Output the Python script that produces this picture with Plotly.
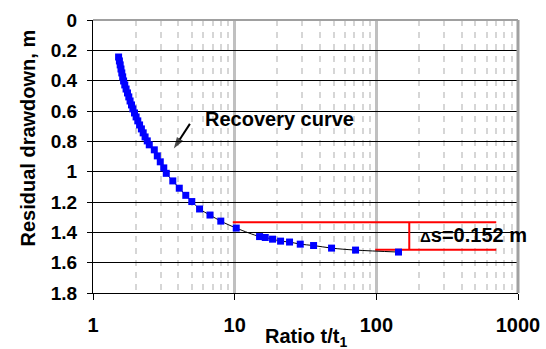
import plotly.graph_objects as go

# ---- data ----
ratio = [1.516, 1.536, 1.556, 1.576, 1.597, 1.620, 1.644, 1.676, 1.712, 1.752,
         1.789, 1.827, 1.869, 1.912, 1.963, 2.015, 2.071, 2.132, 2.196, 2.261,
         2.332, 2.416, 2.496, 2.708, 2.844, 2.985, 3.159, 3.291, 3.658, 4.064,
         4.518, 4.981, 5.653, 6.695, 7.979, 10.26, 14.99, 16.44, 18.51, 21.09,
         24.40, 29.04, 36.06, 48.30, 71.33, 143.4]
drawdown = [0.244, 0.270, 0.296, 0.323, 0.349, 0.375, 0.402, 0.428, 0.455, 0.481,
            0.507, 0.534, 0.560, 0.586, 0.613, 0.639, 0.665, 0.692, 0.718, 0.744,
            0.771, 0.797, 0.823, 0.856, 0.896, 0.935, 0.975, 1.011, 1.061, 1.109,
            1.156, 1.197, 1.246, 1.286, 1.326, 1.372, 1.428, 1.434, 1.445, 1.458,
            1.464, 1.478, 1.487, 1.504, 1.517, 1.530]

# delta-s construction lines
upper_x = [9.70, 702]
upper_y = [1.333, 1.333]
lower_x = [98.2, 702]
lower_y = [1.515, 1.515]
vert_x = [170.8, 170.8]
vert_y = [1.333, 1.515]

# arrow pointing at the curve (tail -> head)
arrow_x = [4.83, 3.72]
arrow_y = [0.685, 0.848]

y_ticks = [0, 0.2, 0.4, 0.6, 0.8, 1.0, 1.2, 1.4, 1.6, 1.8]
y_ticktext = ["0", "0.2", "0.4", "0.6", "0.8", "1", "1.2", "1.4", "1.6", "1.8"]
x_ticks = [1, 10, 100, 1000]
x_ticktext = ["1", "10", "100", "1000"]
x_minor = [2, 3, 4, 5, 6, 7, 8, 9, 20, 30, 40, 50, 60, 70, 80, 90,
           200, 300, 400, 500, 600, 700, 800, 900]

FONT = "Liberation Sans, Arial, sans-serif"
RED = "#ff0000"
W, H = 546, 349
ML, MR, MT, MB = 93, 28, 20, 56
PW, PH = W - ML - MR, H - MT - MB

fig = go.Figure()

for xs, ys in [(upper_x, upper_y), (lower_x, lower_y), (vert_x, vert_y)]:
    fig.add_trace(go.Scatter(x=xs, y=ys, mode="lines",
                             line=dict(color=RED, width=2),
                             hoverinfo="skip", showlegend=False))

fig.add_trace(go.Scatter(
    x=ratio, y=drawdown, mode="lines+markers",
    line=dict(color="black", width=1, shape="spline"),
    marker=dict(symbol="square", size=7, color="#0000ff", line=dict(width=0)),
    showlegend=False))

fig.add_trace(go.Scatter(
    x=arrow_x, y=arrow_y, mode="lines+markers",
    line=dict(color="black", width=2),
    marker=dict(symbol=["circle", "arrow"], size=[0, 12], color="black",
                angleref="previous", line=dict(width=0)),
    hoverinfo="skip", showlegend=False))

fig.update_xaxes(
    type="log", range=[0, 3], automargin=False,
    tickvals=x_ticks, ticktext=x_ticktext,
    tickfont=dict(family=FONT, size=20, color="black", weight="bold"),
    ticks="outside", ticklen=6, tickcolor="black", tickwidth=1,
    ticklabelstandoff=8,
    showline=True, linecolor="black", linewidth=1,
    showgrid=True, gridcolor="#c0c0c0", gridwidth=3,
    zeroline=False,
    minor=dict(tickvals=x_minor, showgrid=True, gridcolor="#d6d6d6",
               gridwidth=1.5, griddash="6px,6px", ticks=""),
)
fig.update_yaxes(
    range=[1.8, 0], automargin=False,
    tickvals=y_ticks, ticktext=y_ticktext,
    tickfont=dict(family=FONT, size=19, color="black", weight="bold"),
    ticks="outside", ticklen=5, tickcolor="black", tickwidth=1,
    ticklabelstandoff=6,
    showline=True, linecolor="black", linewidth=1,
    showgrid=True, gridcolor="black", gridwidth=1,
    zeroline=False,
)

# top and right plot borders (grey)
fig.add_shape(type="line", xref="paper", yref="paper", x0=0, x1=1, y0=1, y1=1,
              line=dict(color="#a0a0a0", width=2), layer="above")
fig.add_shape(type="line", xref="paper", yref="paper", x0=1, x1=1, y0=0, y1=1,
              line=dict(color="#a0a0a0", width=3), layer="above")

# annotations
fig.add_annotation(x=0.778, y=0.655, xref="x", yref="y", text="Recovery curve",
                   showarrow=False, xanchor="left", yanchor="middle",
                   font=dict(family=FONT, size=20, color="black", weight="bold"))
fig.add_annotation(x=2.292, y=1.416, xref="x", yref="y",
                   text="<span style='font-size:15px'>Δ</span>s=0.152 m",
                   showarrow=False, xanchor="left", yanchor="middle",
                   font=dict(family=FONT, size=20, color="black", weight="bold"))
fig.add_annotation(x=(27 - ML) / PW, y=1 - (138.5 - MT) / PH,
                   xref="paper", yref="paper",
                   xanchor="center", yanchor="middle", textangle=-90,
                   text="Residual drawdown, m", showarrow=False,
                   font=dict(family=FONT, size=20, color="black", weight="bold"))
fig.add_annotation(x=0.5, y=-44 / PH, xref="paper", yref="paper",
                   xanchor="center", yanchor="middle",
                   text="Ratio t/t<sub>1</sub>", showarrow=False,
                   font=dict(family=FONT, size=20, color="black", weight="bold"))

fig.update_layout(
    width=W, height=H,
    margin=dict(l=ML, r=MR, t=MT, b=MB),
    paper_bgcolor="white", plot_bgcolor="white",
)

fig.write_html("out.html",
               config={"displayModeBar": False},
               post_script="document.body.style.margin='0';"
                           "document.body.style.padding='0';"
                           "document.body.style.overflow='hidden';")
